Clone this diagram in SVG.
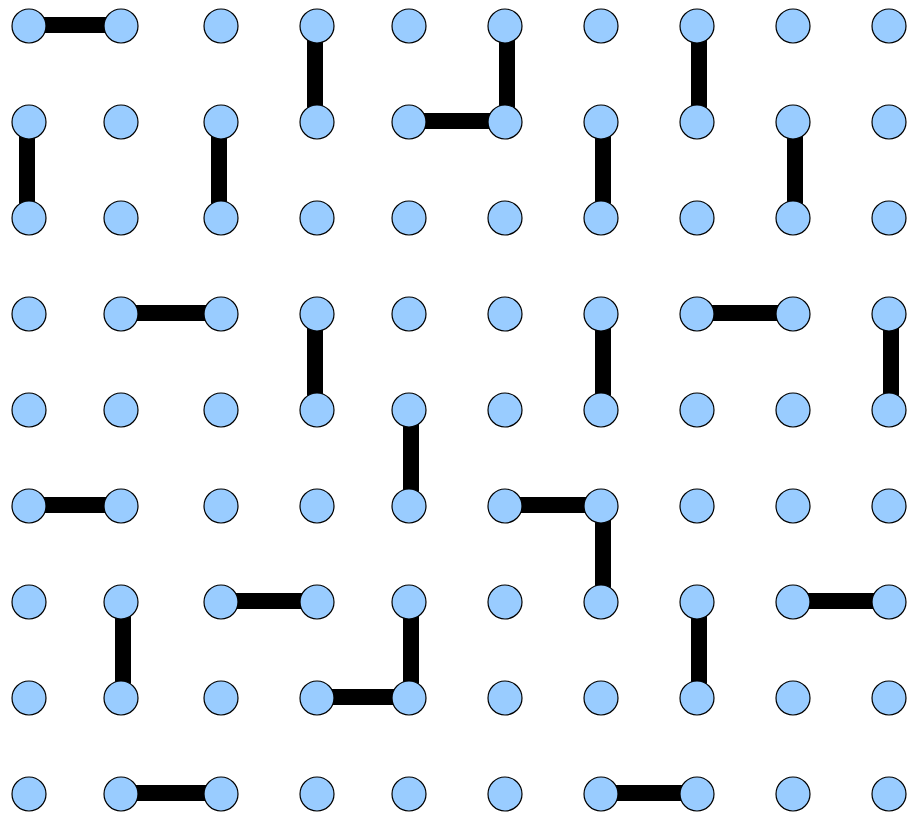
<svg xmlns="http://www.w3.org/2000/svg" width="907" height="814" viewBox="0 0 907 814">
<style>
.e{stroke:#000;stroke-width:16;fill:none}
.n{fill:#99ccff;stroke:#000;stroke-width:1.2}
</style>
<rect width="907" height="814" fill="#fff"/>
<g id="connectors">
<line class="e" x1="29" y1="25" x2="121" y2="25"/>
<line class="e" x1="315" y1="26" x2="315" y2="122"/>
<line class="e" x1="507" y1="26" x2="507" y2="122"/>
<line class="e" x1="409" y1="121" x2="505" y2="121"/>
<line class="e" x1="699" y1="26" x2="699" y2="122"/>
<line class="e" x1="27" y1="122" x2="27" y2="218"/>
<line class="e" x1="219" y1="122" x2="219" y2="218"/>
<line class="e" x1="603" y1="122" x2="603" y2="218"/>
<line class="e" x1="795" y1="122" x2="795" y2="218"/>
<line class="e" x1="121" y1="313" x2="221" y2="313"/>
<line class="e" x1="315" y1="314" x2="315" y2="410"/>
<line class="e" x1="603" y1="314" x2="603" y2="410"/>
<line class="e" x1="697" y1="313" x2="793" y2="313"/>
<line class="e" x1="891" y1="314" x2="891" y2="410"/>
<line class="e" x1="411" y1="410" x2="411" y2="506"/>
<line class="e" x1="29" y1="505" x2="121" y2="505"/>
<line class="e" x1="505" y1="505" x2="601" y2="505"/>
<line class="e" x1="603" y1="506" x2="603" y2="602"/>
<line class="e" x1="123" y1="602" x2="123" y2="698"/>
<line class="e" x1="221" y1="601" x2="317" y2="601"/>
<line class="e" x1="411" y1="602" x2="411" y2="698"/>
<line class="e" x1="317" y1="697" x2="409" y2="697"/>
<line class="e" x1="699" y1="602" x2="699" y2="698"/>
<line class="e" x1="793" y1="601" x2="889" y2="601"/>
<line class="e" x1="121" y1="793" x2="221" y2="793"/>
<line class="e" x1="601" y1="793" x2="697" y2="793"/>
</g>
<g id="r0"><g id="n0_0"><circle class="n" cx="29" cy="26" r="17"/></g><g id="n1_0"><circle class="n" cx="121" cy="26" r="17"/></g><g id="n2_0"><circle class="n" cx="221" cy="26" r="17"/></g><g id="n3_0"><circle class="n" cx="317" cy="26" r="17"/></g><g id="n4_0"><circle class="n" cx="409" cy="26" r="17"/></g><g id="n5_0"><circle class="n" cx="505" cy="26" r="17"/></g><g id="n6_0"><circle class="n" cx="601" cy="26" r="17"/></g><g id="n7_0"><circle class="n" cx="697" cy="26" r="17"/></g><g id="n8_0"><circle class="n" cx="793" cy="26" r="17"/></g><g id="n9_0"><circle class="n" cx="889" cy="26" r="17"/></g></g>
<g id="r1"><g id="n0_1"><circle class="n" cx="29" cy="122" r="17"/></g><g id="n1_1"><circle class="n" cx="121" cy="122" r="17"/></g><g id="n2_1"><circle class="n" cx="221" cy="122" r="17"/></g><g id="n3_1"><circle class="n" cx="317" cy="122" r="17"/></g><g id="n4_1"><circle class="n" cx="409" cy="122" r="17"/></g><g id="n5_1"><circle class="n" cx="505" cy="122" r="17"/></g><g id="n6_1"><circle class="n" cx="601" cy="122" r="17"/></g><g id="n7_1"><circle class="n" cx="697" cy="122" r="17"/></g><g id="n8_1"><circle class="n" cx="793" cy="122" r="17"/></g><g id="n9_1"><circle class="n" cx="889" cy="122" r="17"/></g></g>
<g id="r2"><g id="n0_2"><circle class="n" cx="29" cy="218" r="17"/></g><g id="n1_2"><circle class="n" cx="121" cy="218" r="17"/></g><g id="n2_2"><circle class="n" cx="221" cy="218" r="17"/></g><g id="n3_2"><circle class="n" cx="317" cy="218" r="17"/></g><g id="n4_2"><circle class="n" cx="409" cy="218" r="17"/></g><g id="n5_2"><circle class="n" cx="505" cy="218" r="17"/></g><g id="n6_2"><circle class="n" cx="601" cy="218" r="17"/></g><g id="n7_2"><circle class="n" cx="697" cy="218" r="17"/></g><g id="n8_2"><circle class="n" cx="793" cy="218" r="17"/></g><g id="n9_2"><circle class="n" cx="889" cy="218" r="17"/></g></g>
<g id="r3"><g id="n0_3"><circle class="n" cx="29" cy="314" r="17"/></g><g id="n1_3"><circle class="n" cx="121" cy="314" r="17"/></g><g id="n2_3"><circle class="n" cx="221" cy="314" r="17"/></g><g id="n3_3"><circle class="n" cx="317" cy="314" r="17"/></g><g id="n4_3"><circle class="n" cx="409" cy="314" r="17"/></g><g id="n5_3"><circle class="n" cx="505" cy="314" r="17"/></g><g id="n6_3"><circle class="n" cx="601" cy="314" r="17"/></g><g id="n7_3"><circle class="n" cx="697" cy="314" r="17"/></g><g id="n8_3"><circle class="n" cx="793" cy="314" r="17"/></g><g id="n9_3"><circle class="n" cx="889" cy="314" r="17"/></g></g>
<g id="r4"><g id="n0_4"><circle class="n" cx="29" cy="410" r="17"/></g><g id="n1_4"><circle class="n" cx="121" cy="410" r="17"/></g><g id="n2_4"><circle class="n" cx="221" cy="410" r="17"/></g><g id="n3_4"><circle class="n" cx="317" cy="410" r="17"/></g><g id="n4_4"><circle class="n" cx="409" cy="410" r="17"/></g><g id="n5_4"><circle class="n" cx="505" cy="410" r="17"/></g><g id="n6_4"><circle class="n" cx="601" cy="410" r="17"/></g><g id="n7_4"><circle class="n" cx="697" cy="410" r="17"/></g><g id="n8_4"><circle class="n" cx="793" cy="410" r="17"/></g><g id="n9_4"><circle class="n" cx="889" cy="410" r="17"/></g></g>
<g id="r5"><g id="n0_5"><circle class="n" cx="29" cy="506" r="17"/></g><g id="n1_5"><circle class="n" cx="121" cy="506" r="17"/></g><g id="n2_5"><circle class="n" cx="221" cy="506" r="17"/></g><g id="n3_5"><circle class="n" cx="317" cy="506" r="17"/></g><g id="n4_5"><circle class="n" cx="409" cy="506" r="17"/></g><g id="n5_5"><circle class="n" cx="505" cy="506" r="17"/></g><g id="n6_5"><circle class="n" cx="601" cy="506" r="17"/></g><g id="n7_5"><circle class="n" cx="697" cy="506" r="17"/></g><g id="n8_5"><circle class="n" cx="793" cy="506" r="17"/></g><g id="n9_5"><circle class="n" cx="889" cy="506" r="17"/></g></g>
<g id="r6"><g id="n0_6"><circle class="n" cx="29" cy="602" r="17"/></g><g id="n1_6"><circle class="n" cx="121" cy="602" r="17"/></g><g id="n2_6"><circle class="n" cx="221" cy="602" r="17"/></g><g id="n3_6"><circle class="n" cx="317" cy="602" r="17"/></g><g id="n4_6"><circle class="n" cx="409" cy="602" r="17"/></g><g id="n5_6"><circle class="n" cx="505" cy="602" r="17"/></g><g id="n6_6"><circle class="n" cx="601" cy="602" r="17"/></g><g id="n7_6"><circle class="n" cx="697" cy="602" r="17"/></g><g id="n8_6"><circle class="n" cx="793" cy="602" r="17"/></g><g id="n9_6"><circle class="n" cx="889" cy="602" r="17"/></g></g>
<g id="r7"><g id="n0_7"><circle class="n" cx="29" cy="698" r="17"/></g><g id="n1_7"><circle class="n" cx="121" cy="698" r="17"/></g><g id="n2_7"><circle class="n" cx="221" cy="698" r="17"/></g><g id="n3_7"><circle class="n" cx="317" cy="698" r="17"/></g><g id="n4_7"><circle class="n" cx="409" cy="698" r="17"/></g><g id="n5_7"><circle class="n" cx="505" cy="698" r="17"/></g><g id="n6_7"><circle class="n" cx="601" cy="698" r="17"/></g><g id="n7_7"><circle class="n" cx="697" cy="698" r="17"/></g><g id="n8_7"><circle class="n" cx="793" cy="698" r="17"/></g><g id="n9_7"><circle class="n" cx="889" cy="698" r="17"/></g></g>
<g id="r8"><g id="n0_8"><circle class="n" cx="29" cy="794" r="17"/></g><g id="n1_8"><circle class="n" cx="121" cy="794" r="17"/></g><g id="n2_8"><circle class="n" cx="221" cy="794" r="17"/></g><g id="n3_8"><circle class="n" cx="317" cy="794" r="17"/></g><g id="n4_8"><circle class="n" cx="409" cy="794" r="17"/></g><g id="n5_8"><circle class="n" cx="505" cy="794" r="17"/></g><g id="n6_8"><circle class="n" cx="601" cy="794" r="17"/></g><g id="n7_8"><circle class="n" cx="697" cy="794" r="17"/></g><g id="n8_8"><circle class="n" cx="793" cy="794" r="17"/></g><g id="n9_8"><circle class="n" cx="889" cy="794" r="17"/></g></g>
</svg>
